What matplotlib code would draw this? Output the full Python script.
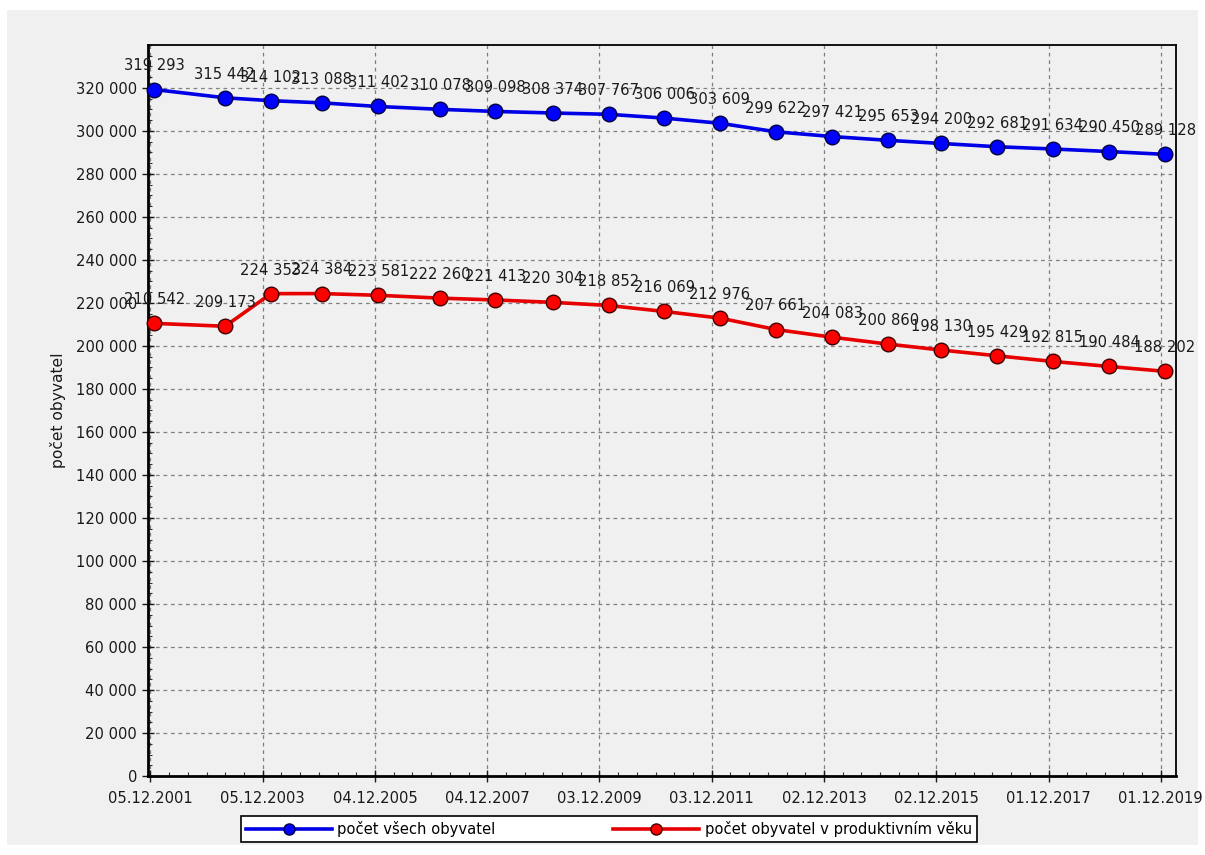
import matplotlib
matplotlib.use("Agg")
import matplotlib.pyplot as plt
import matplotlib.dates as mdates
from matplotlib.ticker import FuncFormatter, FixedLocator
from matplotlib.lines import Line2D
from matplotlib.patches import Rectangle
import datetime as dt

# ---- data ----
dates = ["2001-12-29", "2003-04-04", "2004-01-28", "2004-12-23", "2005-12-25",
         "2007-02-01", "2008-01-25", "2009-02-01", "2010-01-31", "2011-01-28",
         "2012-01-25", "2013-01-24", "2014-01-24", "2015-01-25", "2016-01-03",
         "2017-01-02", "2017-12-30", "2018-12-30", "2019-12-29"]
total = [319293, 315442, 314102, 313088, 311402, 310078, 309098, 308374, 307767,
         306006, 303609, 299622, 297421, 295653, 294200, 292681, 291634, 290450, 289128]
productive = [210542, 209173, 224353, 224384, 223581, 222260, 221413, 220304, 218852,
              216069, 212976, 207661, 204083, 200860, 198130, 195429, 192815, 190484, 188202]
tick_labels = ["05.12.2001", "05.12.2003", "04.12.2005", "04.12.2007", "03.12.2009",
               "03.12.2011", "02.12.2013", "02.12.2015", "01.12.2017", "01.12.2019"]
y_ticks = list(range(0, 320001, 20000))
series_names = ["počet všech obyvatel", "počet obyvatel v produktivním věku"]
y_label = "počet obyvatel"

plt.rcParams['font.family'] = ['DejaVu Sans']
FS = 10.6

def fmt_num(v):
    return f"{int(round(v)):,}".replace(",", " ")

x = [mdates.date2num(dt.datetime.strptime(d, "%Y-%m-%d")) for d in dates]
xt = [mdates.date2num(dt.datetime.strptime(t, "%d.%m.%Y")) for t in tick_labels]

W, H = 1205, 855
fig = plt.figure(figsize=(W / 100, H / 100), dpi=100, facecolor="white")
fig.patches.append(Rectangle((7 / W, 1 - 845 / H), (1198 - 7) / W, (845 - 10) / H,
                             transform=fig.transFigure, facecolor="#f0f0f0",
                             edgecolor="none", zorder=-10))

ax = fig.add_axes([148 / W, 1 - 776 / H, (1176 - 148) / W, (776 - 45) / H])
ax.set_facecolor("#f0f0f0")

blue, red = "#0000e6", "#e60000"
ax.plot(x, total, color=blue, lw=2.6, marker="o", ms=10.5, mfc="#0000ff",
        mec="#000040", mew=1.0, zorder=3, clip_on=False)
ax.plot(x, productive, color=red, lw=2.6, marker="o", ms=10.5, mfc="#ff0000",
        mec="#400000", mew=1.0, zorder=3, clip_on=False)

for xs, ys in ((x, total), (x, productive)):
    for xi, yi in zip(xs, ys):
        ax.annotate(fmt_num(yi), (xi, yi), xytext=(0, 17), textcoords="offset points",
                    ha="center", va="center", fontsize=FS, color="#1a1a1a",
                    zorder=5, annotation_clip=False)

# axes limits
x0 = xt[0] - 16
x1 = xt[0] + 6669
ax.set_xlim(x0, x1)
ax.set_ylim(0, 340000)

ax.xaxis.set_major_locator(FixedLocator(xt))
ax.set_xticklabels(tick_labels)
minor = []
for a, b in zip(xt[:-1], xt[1:]):
    for k in range(1, 6):
        minor.append(a + (b - a) * k / 6)
ax.xaxis.set_minor_locator(FixedLocator(minor))

ax.yaxis.set_major_locator(FixedLocator(y_ticks))
ax.yaxis.set_minor_locator(FixedLocator(list(range(0, 340001, 5000))))
ax.yaxis.set_major_formatter(FuncFormatter(lambda v, p: fmt_num(v)))

ax.tick_params(axis="both", which="major", direction="inout", length=8, width=1,
               labelsize=FS, colors="#1a1a1a", pad=4)
ax.tick_params(axis="x", which="major", pad=7)
ax.tick_params(axis="both", which="minor", direction="in", length=3, width=0.8,
               colors="#333333")

ax.grid(True, which="major", color="#808080", linestyle=(0, (3, 3)), lw=0.9)
ax.set_axisbelow(True)

for s in ("left", "bottom"):
    ax.spines[s].set_linewidth(2.0)
    ax.spines[s].set_color("black")
for s in ("top", "right"):
    ax.spines[s].set_linewidth(1.3)
    ax.spines[s].set_color("black")

ax.set_ylabel(y_label, fontsize=FS + 0.6, labelpad=7, color="#1a1a1a")

handles = [
    Line2D([], [], color=blue, lw=2.6, marker="o", ms=8, mfc="#0000ff", mec="#000040"),
    Line2D([], [], color=red, lw=2.6, marker="o", ms=8, mfc="#ff0000", mec="#400000"),
]
leg = fig.legend(handles, series_names, loc="center", bbox_to_anchor=(609 / W, 1 - 829 / H),
                 ncol=2, fontsize=FS, frameon=True, fancybox=False, edgecolor="black",
                 facecolor="white", framealpha=1, handlelength=5.8, handletextpad=0.4,
                 columnspacing=8.0, borderpad=0.35, borderaxespad=0)
leg.get_frame().set_linewidth(1.2)

fig.savefig("out.png", dpi=100, facecolor=fig.get_facecolor())
